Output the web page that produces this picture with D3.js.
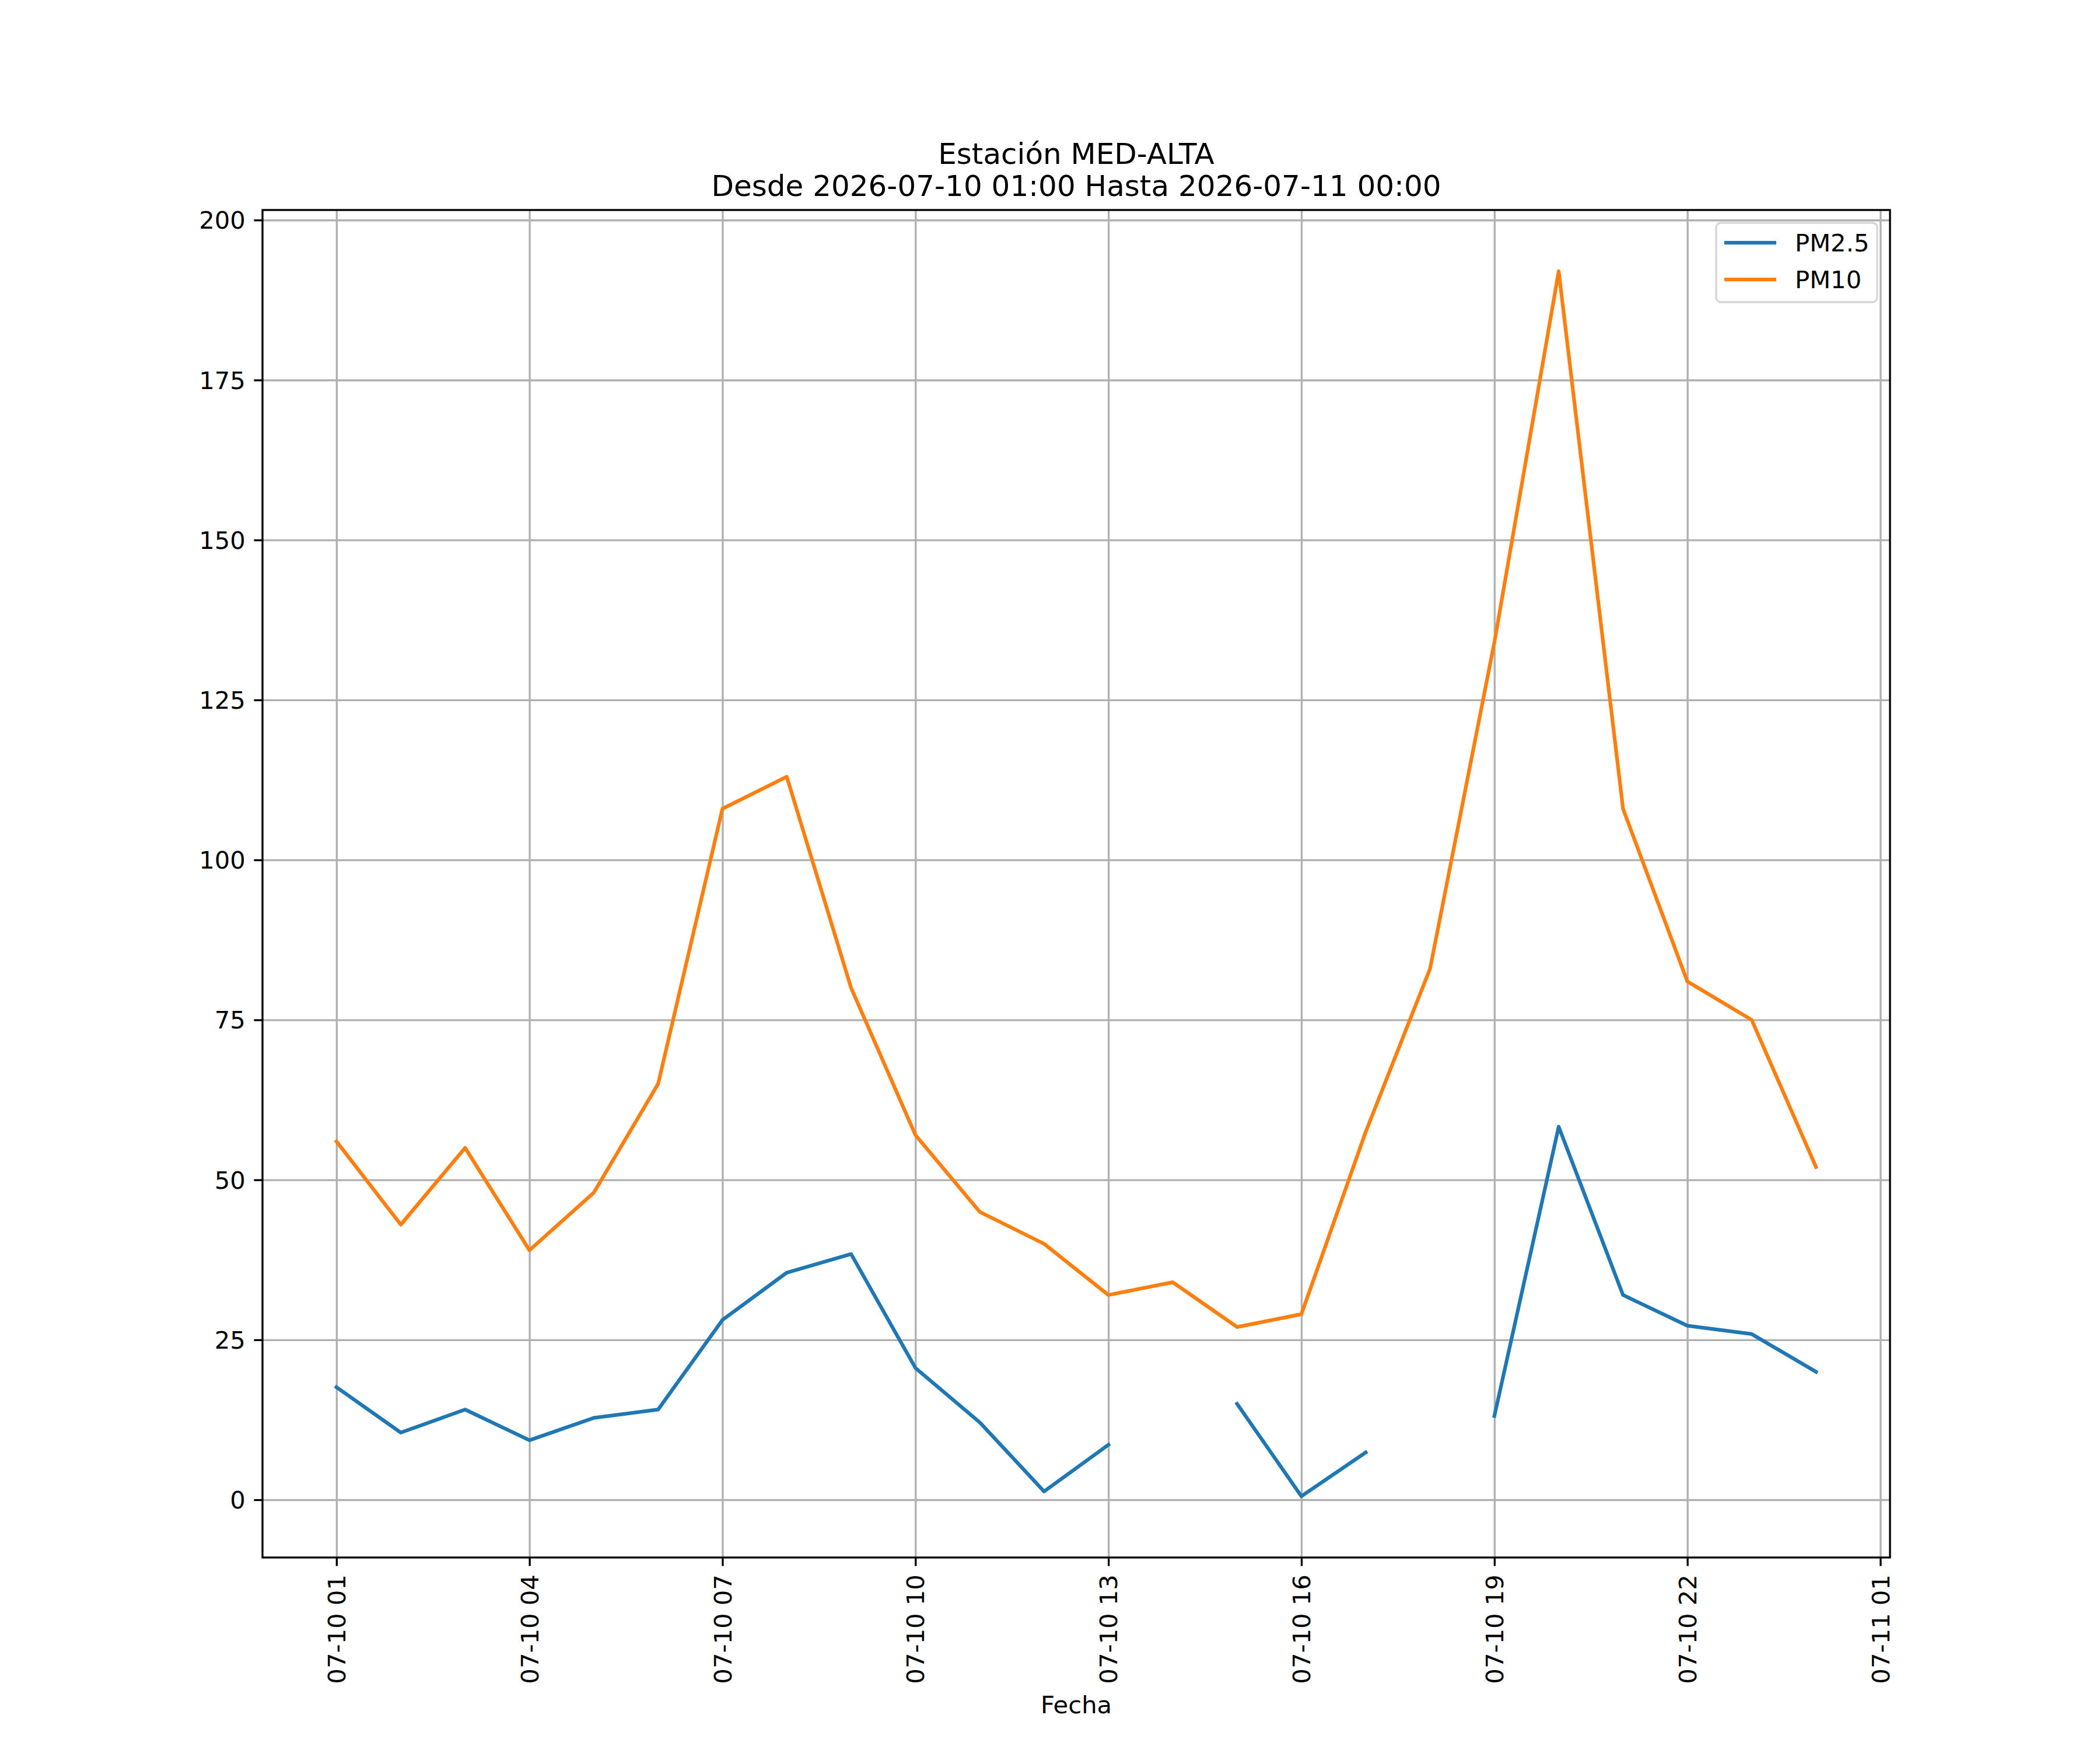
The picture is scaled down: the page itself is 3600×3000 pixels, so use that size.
<!DOCTYPE html>
<html>
<head>
<meta charset="utf-8">
<script src="https://cdn.jsdelivr.net/npm/d3@7"></script>
<style>
  body { margin: 0; background: #fff; }
  text { font-family: "DejaVu Sans", sans-serif; fill: #000; }
</style>
</head>
<body>
<div id="chart"></div>
<script>
// horas de medición (07-10 01:00 -> 07-11 00:00)
const fechas = [
  "2026-07-10T01:00", "2026-07-10T02:00", "2026-07-10T03:00", "2026-07-10T04:00",
  "2026-07-10T05:00", "2026-07-10T06:00", "2026-07-10T07:00", "2026-07-10T08:00",
  "2026-07-10T09:00", "2026-07-10T10:00", "2026-07-10T11:00", "2026-07-10T12:00",
  "2026-07-10T13:00", "2026-07-10T14:00", "2026-07-10T15:00", "2026-07-10T16:00",
  "2026-07-10T17:00", "2026-07-10T18:00", "2026-07-10T19:00", "2026-07-10T20:00",
  "2026-07-10T21:00", "2026-07-10T22:00", "2026-07-10T23:00", "2026-07-11T00:00"
];
// null = dato faltante
const pm25 = [17.6, 10.5, 14.1, 9.3, 12.8, 14.1, 28.1, 35.5, 38.4, 20.6, 12.1, 1.3,
              8.6, null, 15.0, 0.55, 7.4, null, 13.1, 58.3, 32.0, 27.2, 25.9, 20.0];
const pm10 = [56, 43, 55, 39, 48, 65, 108, 113, 80, 57, 45, 40,
              32, 34, 27, 29, 57.5, 83, 134, 192, 108, 81, 75, 52];
const ticksX = [
  "2026-07-10T01:00", "2026-07-10T04:00", "2026-07-10T07:00", "2026-07-10T10:00",
  "2026-07-10T13:00", "2026-07-10T16:00", "2026-07-10T19:00", "2026-07-10T22:00",
  "2026-07-11T01:00"
];
const ticksY = [0, 25, 50, 75, 100, 125, 150, 175, 200];
const series = [
  { name: "PM2.5", values: pm25, color: "#1f77b4" },
  { name: "PM10", values: pm10, color: "#ff7f0e" }
];
const titulo = ["Estación MED-ALTA", "Desde 2026-07-10 01:00 Hasta 2026-07-11 00:00"];

const W = 3600, H = 3000;
const margin = { top: 360, right: 360, bottom: 330, left: 450 };
const plotW = W - margin.left - margin.right;
const plotH = H - margin.top - margin.bottom;
const fs = 41.7;          // 10pt @ 300dpi
const tick = 14.6;        // 3.5pt
const lw = 3.33;          // 0.8pt

const parse = d3.timeParse("%Y-%m-%dT%H:%M");
const dates = fechas.map(parse);

const svg = d3.select("#chart").append("svg")
  .attr("width", W).attr("height", H)
  .attr("viewBox", `0 0 ${W} ${H}`);
svg.append("rect").attr("width", W).attr("height", H).attr("fill", "#fff");

const plot = svg.append("g").attr("transform", `translate(${margin.left},${margin.top})`);

// dominios con 5% de margen como matplotlib
const [t0, t1] = d3.extent(dates);
const span = t1 - t0;
const x = d3.scaleTime()
  .domain([new Date(+t0 - span * 0.05), new Date(+t1 + span * 0.05)])
  .range([0, plotW]);
const allVals = pm25.concat(pm10).filter(v => v != null);
const [vMin, vMax] = d3.extent(allVals);
const vPad = (vMax - vMin) * 0.05;
const y = d3.scaleLinear().domain([vMin - vPad, vMax + vPad]).range([plotH, 0]);

// grid
const grid = plot.append("g").attr("class", "grid");
grid.append("g").attr("transform", `translate(0,${plotH})`)
  .call(d3.axisBottom(x).tickValues(ticksX.map(parse)).tickSize(-plotH).tickFormat(""))
  .call(g => g.select(".domain").remove());
grid.append("g")
  .call(d3.axisLeft(y).tickValues(ticksY).tickSize(-plotW).tickFormat(""))
  .call(g => g.select(".domain").remove());
grid.selectAll("line").attr("stroke", "#b0b0b0").attr("stroke-width", lw);

// líneas
const line = d3.line()
  .defined(d => d.v != null)
  .x(d => x(d.t))
  .y(d => y(d.v));

series.forEach(s => {
  plot.append("path")
    .datum(dates.map((t, i) => ({ t, v: s.values[i] })))
    .attr("fill", "none")
    .attr("stroke", s.color)
    .attr("stroke-width", 6.25)
    .attr("stroke-linejoin", "round")
    .attr("stroke-linecap", "square")
    .attr("d", line);
});

// ejes
const fmt = d3.timeFormat("%m-%d %H");
const xAxis = plot.append("g").attr("transform", `translate(0,${plotH})`)
  .call(d3.axisBottom(x).tickValues(ticksX.map(parse)).tickSize(tick).tickFormat(fmt));
xAxis.select(".domain").remove();
xAxis.selectAll("line").attr("stroke", "#000").attr("stroke-width", lw);
xAxis.selectAll("text")
  .attr("font-size", fs)
  .attr("transform", "rotate(-90)")
  .attr("x", -(tick + 14.6))
  .attr("y", 0)
  .attr("dy", "0.35em")
  .attr("text-anchor", "end");

const yAxis = plot.append("g")
  .call(d3.axisLeft(y).tickValues(ticksY).tickSize(tick).tickPadding(14.6));
yAxis.select(".domain").remove();
yAxis.selectAll("line").attr("stroke", "#000").attr("stroke-width", lw);
yAxis.selectAll("text").attr("font-size", fs).attr("dy", "0.35em");

// marco
plot.append("rect")
  .attr("width", plotW).attr("height", plotH)
  .attr("fill", "none").attr("stroke", "#000").attr("stroke-width", lw);

// título
svg.append("text")
  .attr("x", margin.left + plotW / 2).attr("y", 281)
  .attr("text-anchor", "middle").attr("font-size", 50)
  .text(titulo[0]);
svg.append("text")
  .attr("x", margin.left + plotW / 2).attr("y", 336)
  .attr("text-anchor", "middle").attr("font-size", 50)
  .text(titulo[1]);

// etiqueta eje x
svg.append("text")
  .attr("x", margin.left + plotW / 2).attr("y", 2937)
  .attr("text-anchor", "middle").attr("font-size", fs)
  .text("Fecha");

// leyenda
const leg = svg.append("g").attr("transform", "translate(2942,382)");
leg.append("rect")
  .attr("width", 276).attr("height", 136).attr("rx", 8)
  .attr("fill", "#fff").attr("fill-opacity", 0.8)
  .attr("stroke", "#cccccc").attr("stroke-opacity", 0.8).attr("stroke-width", 3.3);
series.forEach((s, i) => {
  const yy = 34 + i * 63;
  leg.append("line")
    .attr("x1", 14).attr("x2", 103).attr("y1", yy).attr("y2", yy)
    .attr("stroke", s.color).attr("stroke-width", 6.25);
  leg.append("text")
    .attr("x", 135).attr("y", yy + 14.5)
    .attr("font-size", fs)
    .text(s.name);
});
</script>
</body>
</html>
